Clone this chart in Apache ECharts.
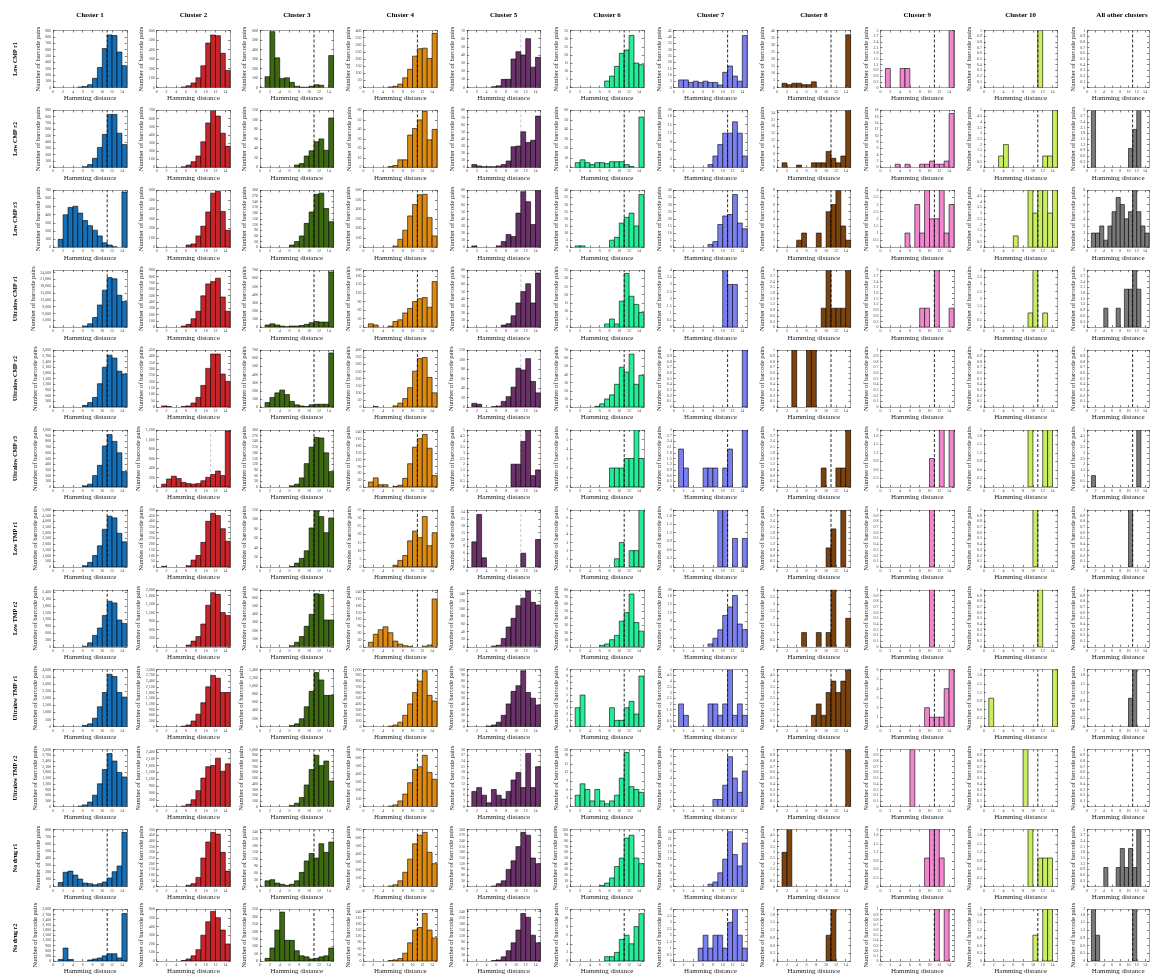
<!DOCTYPE html>
<html><head><meta charset="utf-8">
<script src="https://cdn.jsdelivr.net/npm/echarts@6/dist/echarts.min.js"></script>
<style>html,body{margin:0;padding:0;background:#fff;overflow:hidden}#c{width:1150px;height:976px}</style>
</head><body><div id="c"></div><script>
const clusters = ['Cluster 1','Cluster 2','Cluster 3','Cluster 4','Cluster 5','Cluster 6','Cluster 7','Cluster 8','Cluster 9','Cluster 10','All other clusters'];
const samples = ['Low CMP r1','Low CMP r2','Low CMP r3','Ultralow CMP r1','Ultralow CMP r2','Ultralow CMP r3','Low TMP r1','Low TMP r2','Ultralow TMP r1','Ultralow TMP r2','No drug r1','No drug r2'];
const binStarts = [1,2,3,4,5,6,7,8,9,10,11,12,13,14];
const binWidth = 1;
const xTicks = [0,2,4,6,8,10,12,14];
const threshold = 11;
const Z = [0,0,0,0,0,0,0,0,0,0,0,0,0,0];

const lowCMP_r1 = [
 [0,0,0,0,8,15,45,145,315,615,830,820,560,345],
 [0,0,0,0,6,18,48,102,228,468,552,546,360,180],
 [114,588,312,96,102,54,12,3,3,12,30,24,0,336],
 [0,0,0,0,4,8,24,68,128,220,272,276,204,380],
 [0,0,0,0,1,2,10,10,35,44,40,60,25,37],
 [0,0,0,0,0,0,4,7,13,21,23,32,15,14],
 [6,6,4,5,4,5,4,4,2,12,17,9,5,41],
 [3,2,3,3,2,2,4,0,0,0,0,0,0,37],
 [1,0,0,1,1,0,0,0,0,0,0,0,0,3],
 [0,0,0,0,0,0,0,0,0,0,1,0,0,0],
 Z
];
const lowCMP_r2 = [
 [0,0,0,0,0,9,45,144,315,522,837,837,540,360],
 [0,0,0,0,7,28,70,140,315,546,700,630,420,259],
 [0,0,0,0,0,0,5,8,24,35,54,60,36,104],
 [0,0,0,0,1,2,8,8,34,41,50,59,29,40],
 [4,2,1,1,1,2,4,9,29,30,50,35,38,72],
 [5,8,5,3,5,5,4,6,6,6,3,1,0,53],
 [0,0,0,0,0,0,1,4,8,12,12,16,12,4],
 [2,0,0,1,0,0,2,2,2,7,4,2,5,25],
 [0,0,1,0,1,0,0,1,1,2,1,1,2,17],
 [0,0,1,2,0,0,0,0,0,0,0,1,1,5],
 [3,0,0,0,0,0,0,0,0,1,2,3,0,0]
];
const lowCMP_r3 = [
 [98,399,490,504,420,329,266,210,140,56,28,7,0,679],
 [0,0,0,0,0,24,36,120,222,372,570,588,378,180],
 [0,0,0,0,0,12,30,60,126,186,279,285,204,135],
 [0,0,0,0,0,12,84,180,330,450,552,558,312,120],
 [2,0,0,0,0,2,8,18,15,48,78,64,32,80],
 [1,1,0,0,0,0,0,5,7,17,21,24,15,37],
 [0,0,0,0,0,0,2,4,16,22,23,37,17,13],
 [0,0,0,1,2,0,0,2,0,5,6,8,3,1],
 [0,0,0,0,1,0,3,1,4,2,2,4,1,3],
 [0,0,0,0,0,1,0,0,5,3,5,5,3,5],
 [2,2,3,1,3,5,7,6,4,5,8,5,3,2]
];
const ultralowCMP_r1 = [
 [0,0,0,0,0,500,1500,4250,9750,16250,21750,21250,14000,11250],
 [0,0,0,0,18,45,135,252,495,684,720,774,477,252],
 [28,42,28,14,7,14,14,21,35,56,70,63,63,679],
 [12,8,0,0,4,20,26,50,66,90,100,104,70,160],
 [0,0,0,0,0,0,3,5,16,34,50,61,34,76],
 [0,0,0,0,0,0,2,5,2,16,33,19,14,9],
 [0,0,0,0,0,0,0,0,0,4,3,3,0,0],
 [0,0,0,0,0,0,0,0,1,3,1,1,1,3],
 [0,0,0,0,0,0,0,1,1,0,3,0,0,1],
 [0,0,0,0,0,0,0,0,1,4,0,1,0,0],
 [0,0,0,1,0,0,1,0,2,2,3,2,0,0]
];
const ultralowCMP_r2 = [
 [0,0,0,0,0,90,240,510,1230,2100,2730,2580,1890,1740],
 [9,5,0,0,5,9,32,77,171,306,419,419,261,203],
 [56,119,175,210,154,70,28,14,7,28,35,35,35,665],
 [0,4,0,0,0,8,28,60,136,252,340,348,208,100],
 [8,6,0,0,1,2,12,22,42,82,78,102,54,30],
 [0,0,0,0,1,4,10,15,28,49,43,65,28,39],
 [0,0,0,0,0,0,0,0,0,0,0,0,0,1],
 [0,0,1,0,0,1,1,0,0,0,0,0,0,0],
 Z, Z, Z
];
const ultralowCMP_r3 = [
 [0,0,0,0,0,20,50,200,380,720,920,800,600,270],
 [60,168,228,180,96,72,60,72,132,204,264,336,240,1176],
 [0,0,0,0,0,6,15,48,123,210,261,258,180,81],
 [22,40,10,10,0,2,8,38,102,175,212,230,170,50],
 [0,0,0,0,0,0,0,0,2,2,4,5,1,1.5],
 [0,0,0,0,0,0,0,2,2,2,3,3,6,3],
 [2,1,0,0,0,1,1,1,0,1,2,0,0,3],
 [0,0,0,0,0,0,0,0,1,0,0,1,1,3],
 [0,0,0,0,0,0,0,0,0,1,0,2,0,2],
 [0,0,0,0,0,0,0,0,2,0,0,2,2,0],
 [1,0,0,0,0,0,0,0,0,0,0,5,0,0]
];
const lowTMP_r1 = [
 [0,0,0,0,0,100,400,1000,1850,3300,4450,4300,2950,2200],
 [5,0,0,0,0,10,60,100,215,400,470,450,335,225],
 [0,0,0,0,0,1,8,18,34,82,118,106,72,103],
 [0,0,0,0,0,1,4,7,16,22,18,31,13,21],
 [11,23,4,0,0,0,0,0,0,0,6,0,0,12],
 [0,0,0,0,0,0,0,0,1,3,0,2,2,7],
 [0,0,0,0,0,0,0,0,2,2,0,1,0,1],
 [0,0,0,0,0,0,0,0,0,1,2,0,3,0],
 [0,0,0,0,0,0,0,0,0,1,0,0,0,0],
 [0,0,0,0,0,0,0,0,0,1,0,0,0,0],
 [0,0,0,0,0,0,0,0,0,1,0,0,0,0]
];
const lowTMP_r2 = [
 [0,0,0,0,0,25,175,500,825,1375,2000,1925,1175,1025],
 [0,0,0,0,0,60,200,360,800,1460,1900,1840,1200,1100],
 [0,0,0,0,0,14,56,126,252,399,651,644,329,329],
 [20,55,75,88,62,25,12,5,2,0,0,2,8,210],
 [0,0,0,0,2,4,22,52,75,108,128,147,117,110],
 [0,0,0,0,0,2,4,10,16,36,48,74,34,22],
 [0,0,0,0,0,0,1,3,6,11,14,18,8,6],
 [0,0,0,0,1,0,0,1,0,1,4,0,0,2],
 [0,0,0,0,0,0,0,0,0,1,0,0,0,0],
 [0,0,0,0,0,0,0,0,0,0,1,0,0,0],
 Z
];
const ultralowTMP_r1 = [
 [0,0,0,0,0,80,200,600,1400,2400,3680,3520,2400,2080],
 [0,0,0,0,30,90,300,660,1260,2100,2700,2550,1800,1800],
 [0,0,0,0,0,28,70,196,490,868,1330,1148,770,770],
 [0,0,0,0,10,30,80,200,400,600,800,980,550,450],
 [0,0,0,1,3,8,20,40,62,72,98,60,50,38],
 [3,5,0,0,0,0,0,3,1,1,3,4,2,8],
 [2,1,0,0,0,0,2,2,1,2,5,1,2,1],
 [0,0,0,0,0,0,1,2,1,3,4,3,4,5],
 [0,0,0,0,0,0,0,0,2,1,1,1,4,6],
 [1,0,0,0,0,0,0,0,0,0,0,0,0,2],
 [0,0,0,0,0,0,0,0,0,1,2,0,0,0]
];
const ultralowTMP_r2 = [
 [0,0,0,0,30,90,240,600,1200,1950,2790,2400,1800,1560],
 [0,0,0,0,25,100,300,700,1250,1750,1800,2125,1550,1875],
 [0,0,0,0,0,20,60,160,380,650,900,720,800,450],
 [0,0,0,0,7,21,70,154,294,455,490,630,420,336],
 [8,10,6,2,9,6,4,8,14,18,10,28,10,21],
 [4,8,6,2,6,2,1,2,4,10,19,7,6,5],
 [0,0,0,0,0,0,0,1,1,3,7,4,2,5],
 [0,0,0,0,0,0,0,0,0,0,0,0,0,1],
 [0,0,0,0,0,1,0,0,0,0,0,0,0,0],
 [0,0,0,0,0,0,0,1,0,0,0,0,0,0],
 Z
];
const noDrug_r1 = [
 [56,200,216,160,104,48,40,24,40,64,120,208,288,760],
 [0,0,0,0,0,10,25,80,250,390,475,460,300,135],
 [25,30,15,10,5,10,25,62,112,145,125,188,150,195],
 [0,0,0,0,7,21,70,175,336,525,630,665,420,280],
 [0,0,0,0,3,15,30,90,135,210,285,270,150,120],
 [0,0,0,0,0,2,6,15,35,50,85,90,50,40],
 [0,0,0,0,0,0,1,2,6,12,24,14,9,19],
 [3,5,0,0,0,0,0,0,0,0,0,0,0,0],
 [0,0,0,0,0,0,0,0,1,2,2,1,0,0],
 [0,0,0,0,0,0,0,0,2,0,1,1,1,0],
 [0,0,0,1,0,0,1,2,1,2,1,3,0,0]
];
const noDrug_r2 = [
 [90,750,90,0,0,0,60,120,180,300,420,420,180,2760],
 [0,0,0,0,6,24,60,132,300,456,576,504,360,198],
 [18,88,210,332,140,140,70,35,28,14,18,28,35,88],
 [0,0,0,0,2,5,12,38,88,150,162,230,150,112],
 [0,0,0,0,2,5,20,50,88,150,230,212,125,88],
 [0,0,0,0,0,0,1,1,2,5,6,4,8,11],
 [0,0,0,0,1,2,1,2,2,1,3,4,2,1],
 [0,0,0,0,0,0,0,0,0,1,2,0,0,0],
 [0,0,0,0,0,0,0,0,0,0,1,0,1,0],
 [0,0,0,0,0,0,0,0,0,1,0,2,2,0],
 [2,1,0,0,0,0,0,0,0,0,2,0,0,0]
];
const yAxisMax = [
 [900,600,600,400,70,35,45,40,3,1,1],
 [900,700,120,60,80,60,20,25,18,5,3],
 [700,600,300,600,80,40,40,8,4,5,8],
 [25000,900,700,200,80,35,4,3,3,4,3],
 [3000,450,700,400,120,70,1,1,1,1,1],
 [1000,1200,300,250,5,6,3,3,2,2,5],
 [5000,500,120,35,25,7,2,3,1,1,1],
 [2500,2000,700,250,150,80,20,4,1,1,1],
 [4000,3000,1400,1000,100,9,5,5,6,2,2],
 [3000,2500,1000,700,30,20,8,1,1,1,1],
 [800,500,250,700,300,100,25,5,2,2,3],
 [3000,600,350,250,250,12,4,2,1,2,2]
];
const rows = [lowCMP_r1, lowCMP_r2, lowCMP_r3, ultralowCMP_r1, ultralowCMP_r2, ultralowCMP_r3, lowTMP_r1, lowTMP_r2, ultralowTMP_r1, ultralowTMP_r2, noDrug_r1, noDrug_r2];

const colors = ['#1570b8','#c8252b','#3d6a10','#dc8a12','#6a3268','#26ed98','#7b80f0','#7c430e','#f287cf','#c9ee62','#7a7a7a'];
const lightLineCols = [1,4];

const PL = 53.3, CP = 103.4, PT = 30.5, RP = 79.9, PW = 73.5, PH = 57;
const FONT = '"Liberation Serif","Times New Roman",serif';
const FRAME = '#8a8a8a';

function renderBar(params, api){
  const x0 = api.value(0), v = api.value(1);
  if (!v) return null;
  const p0 = api.coord([x0, 0]);
  const p1 = api.coord([x0 + binWidth, v]);
  return {type:'rect', shape:{x:p0[0], y:p1[1], width:p1[0]-p0[0], height:p0[1]-p1[1]},
    style:{fill: api.visual('color'), stroke:'rgba(0,0,0,0.75)', lineWidth:0.8}};
}

const grid=[], xAxis=[], yAxis=[], series=[], graphic=[];
rows.forEach((row, r) => {
  const top = PT + r*RP;
  graphic.push({type:'text', x: 15, y: top + PH/2, rotation: Math.PI/2,
    style:{text: samples[r], font:'bold 6px ' + FONT, textAlign:'center', textVerticalAlign:'middle', align:'center', verticalAlign:'middle', fill:'#000'}});
  row.forEach((counts, c) => {
    const gi = grid.length;
    const left = PL + c*CP;
    if (r === 0) {
      const cx = c === 10 ? 1122 : left + PW/2;
      graphic.push({type:'text', x: cx, y: 15,
        style:{text: clusters[c], font:'bold 7px ' + FONT, textAlign:'center', textVerticalAlign:'middle', align:'center', verticalAlign:'middle', fill:'#000'}});
    }
    grid.push({left: left, top: top, width: PW, height: PH});
    const ymax = yAxisMax[r][c];
    const axLine = {show:true, onZero:false, lineStyle:{color:FRAME, width:0.8}};
    const tick = {show:true, inside:true, length:2, lineStyle:{color:'#222', width:0.6}};
    xAxis.push({gridIndex: gi, type:'value', min:0, max:15, interval:2, position:'bottom',
      name:'Hamming distance', nameLocation:'middle', nameGap:7,
      nameTextStyle:{fontSize:7, fontFamily:FONT, color:'#222'},
      axisLine: axLine, axisTick: tick,
      axisLabel:{fontSize:4, margin:2, color:'#444', fontFamily:FONT, showMaxLabel:false},
      splitLine:{show:false}});
    xAxis.push({gridIndex: gi, type:'value', min:0, max:15, interval:2, position:'top',
      axisLine: axLine, axisTick: tick, axisLabel:{show:false}, splitLine:{show:false}});
    yAxis.push({gridIndex: gi, type:'value', min:0, max:ymax, splitNumber:8, position:'left',
      name:'Number of barcode pairs', nameLocation:'middle', nameGap:11,
      nameTextStyle:{fontSize:6.5, fontFamily:FONT, color:'#222'},
      axisLine: axLine, axisTick: tick,
      axisLabel:{fontSize:4, margin:2, color:'#444', fontFamily:FONT},
      splitLine:{show:false}});
    yAxis.push({gridIndex: gi, type:'value', min:0, max:ymax, splitNumber:8, position:'right',
      axisLine: axLine, axisTick: tick, axisLabel:{show:false}, splitLine:{show:false}});
    const light = lightLineCols.includes(c);
    series.push({type:'custom', xAxisIndex: 2*gi, yAxisIndex: 2*gi,
      data: binStarts.map((b,i)=>[b, counts[i]]), renderItem: renderBar,
      encode:{x:0, y:1}, itemStyle:{color: colors[c]}, z: 2, silent:true, clip:true});
    series.push({type:'line', xAxisIndex: 2*gi, yAxisIndex: 2*gi,
      data:[[threshold,0],[threshold,ymax]], symbol:'none', silent:true,
      lineStyle:{type:[3,2], color: light ? '#c4c4c4' : '#111', width: 0.9}, z: light ? 1 : 3});
  });
});

const chart = echarts.init(document.getElementById('c'), null, {renderer:'canvas'});
chart.setOption({animation:false, backgroundColor:'#fff', grid, xAxis, yAxis, series, graphic});
</script></body></html>
